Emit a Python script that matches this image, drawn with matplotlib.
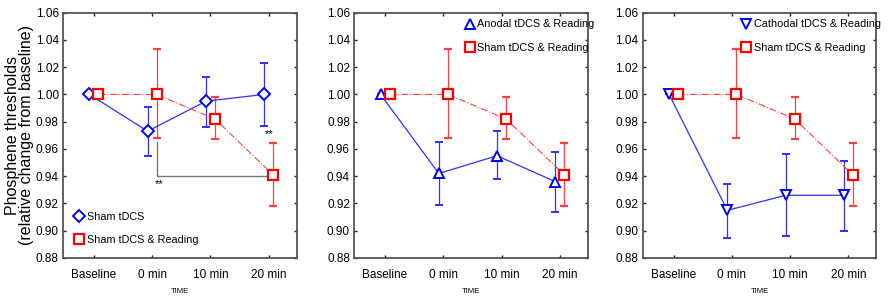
import numpy as np
import matplotlib.pyplot as plt
from matplotlib.lines import Line2D

plt.rcParams['font.family'] = ['Liberation Sans', 'DejaVu Sans']

times = ["Baseline", "0 min", "10 min", "20 min"]

# sham tDCS & reading (same in all three panels)
sham_read = [1.000, 1.000, 0.982, 0.941]
sham_read_lo = [1.000, 0.968, 0.967, 0.918]
sham_read_hi = [1.000, 1.033, 0.998, 0.964]

sham = [1.000, 0.973, 0.995, 1.000]
sham_lo = [1.000, 0.955, 0.976, 0.977]
sham_hi = [1.000, 0.991, 1.013, 1.023]

anodal = [1.000, 0.942, 0.955, 0.936]
anodal_lo = [1.000, 0.919, 0.938, 0.914]
anodal_hi = [1.000, 0.965, 0.973, 0.958]

cathodal = [1.000, 0.915, 0.926, 0.926]
cathodal_lo = [1.000, 0.895, 0.896, 0.900]
cathodal_hi = [1.000, 0.934, 0.956, 0.951]

panels = [
    ("Sham tDCS", sham, sham_lo, sham_hi, "D", ("lower left", (0.038, 0.035))),
    ("Anodal tDCS & Reading", anodal, anodal_lo, anodal_hi, "^", ("upper left", (0.462, 0.99))),
    ("Cathodal tDCS & Reading", cathodal, cathodal_lo, cathodal_hi, "v", ("upper left", (0.41, 0.99))),
]
lefts = [0.0706, 0.397, 0.7205]

fig = plt.figure(figsize=(8.92, 3.0), dpi=100)
x = np.arange(len(times))
off = 0.077

for i, (name, vals, lo, hi, mk, (loc, anchor)) in enumerate(panels):
    ax = fig.add_axes([lefts[i], 0.14, 0.262, 0.818])
    v = np.array(vals)
    err = [v - np.array(lo), np.array(hi) - v]
    ms = 6 if mk == "D" else 7
    ax.errorbar(x - off, v, yerr=err, color="#3030ff", lw=0.9, elinewidth=0.9,
                capsize=3, marker=mk, ms=ms, mfc="white", mec="#0000ff", mew=1.4,
                zorder=3)
    r = np.array(sham_read)
    rerr = [r - np.array(sham_read_lo), np.array(sham_read_hi) - r]
    ax.errorbar(x + off, r, yerr=rerr, color="#ff4040", lw=0.8, ls="-.", elinewidth=0.9,
                capsize=3, marker="s", ms=7, mfc="white", mec="#ff0000", mew=1.6,
                zorder=3)
    ax.set_xlim(-0.53, 3.48)
    ax.set_ylim(0.88, 1.06)
    yt = np.arange(0.88, 1.061, 0.02)
    ax.set_yticks(yt)
    ax.set_yticklabels([f"{t:.2f}" for t in yt])
    ax.set_xticks(x)
    ax.set_xticklabels(times)
    ax.tick_params(direction="in", length=2, width=1, top=True, right=True,
                   labelsize=8.5, pad=3, color="#222222")
    ax.tick_params(axis="x", pad=8)
    for s in ax.spines.values():
        s.set_color("#555555")
        s.set_linewidth(1.3)
    ax.set_xlabel("TIME", fontsize=5.5, labelpad=5)
    handles = [
        Line2D([], [], ls="none", marker=mk, ms=ms, mfc="white", mec="#0000ff", mew=1.4),
        Line2D([], [], ls="none", marker="s", ms=7, mfc="white", mec="#ff0000", mew=1.6),
    ]
    ax.legend(handles, [name, "Sham tDCS & Reading"], loc=loc, bbox_to_anchor=anchor,
              frameon=False, fontsize=7.8, handlelength=0.6, handletextpad=0.4,
              labelspacing=1.25, borderaxespad=0)
    if i == 0:
        ax.set_ylabel("Phosphene thresholds\n(relative change from baseline)",
                      fontsize=11.5, linespacing=0.9)
        ax.yaxis.set_label_coords(-0.125, 0.5)
        ax.plot([1 + off, 1 + off, 3], [0.965, 0.940, 0.940], color="#777777", lw=1.0, zorder=2)
        ax.text(1 + off + 0.05, 0.938, "**", fontsize=8, ha="center", va="top")
        ax.text(3.0, 0.971, "**", fontsize=8, ha="center", va="center")

fig.savefig("out.png", dpi=100)
